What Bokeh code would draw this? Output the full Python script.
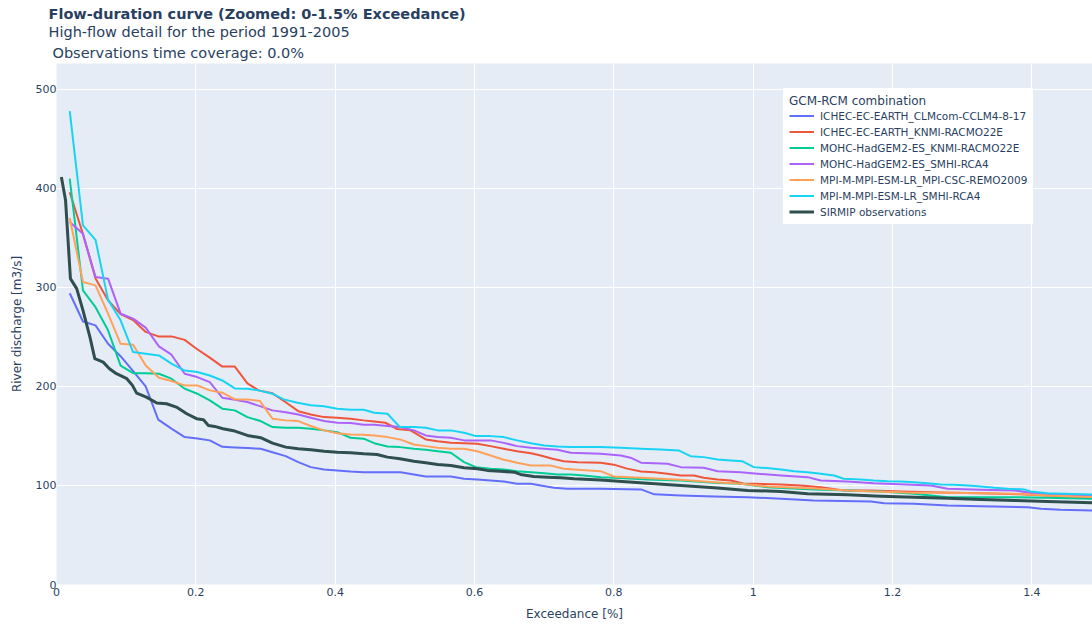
from bokeh.plotting import figure
from bokeh.models import (Legend, LegendItem, Title, Range1d, FixedTicker,
                          CustomJSTickFormatter)
from bokeh.embed import file_html
from bokeh.resources import INLINE

FONT = "DejaVu Sans"
TXT = "#2a3f5f"

title_main = "Flow-duration curve (Zoomed: 0-1.5% Exceedance)"
title_sub1 = "High-flow detail for the period 1991-2005"
title_sub2 = "Observations time coverage: 0.0%"
legend_title = "GCM-RCM combination"
x_label = "Exceedance [%]"
y_label = "River discharge [m3/s]"

x_ticks = [0, 0.2, 0.4, 0.6, 0.8, 1.0, 1.2, 1.4]
y_ticks = [0, 100, 200, 300, 400, 500]

names = [
    "ICHEC-EC-EARTH_CLMcom-CCLM4-8-17",
    "ICHEC-EC-EARTH_KNMI-RACMO22E",
    "MOHC-HadGEM2-ES_KNMI-RACMO22E",
    "MOHC-HadGEM2-ES_SMHI-RCA4",
    "MPI-M-MPI-ESM-LR_MPI-CSC-REMO2009",
    "MPI-M-MPI-ESM-LR_SMHI-RCA4",
    "SIRMIP observations",
]
colors = ["#636efa", "#ef553b", "#00cc96", "#ab63fa", "#ffa15a", "#19d3f3", "#2f4f4f"]

# ICHEC-EC-EARTH_CLMcom-CCLM4-8-17
blue_x = [0.019, 0.038, 0.056, 0.074, 0.092, 0.110, 0.128, 0.146, 0.165, 0.184,
          0.202, 0.220, 0.238, 0.256, 0.274, 0.293, 0.310, 0.329, 0.347, 0.365,
          0.384, 0.403, 0.422, 0.441, 0.494, 0.513, 0.530, 0.566, 0.585, 0.604,
          0.623, 0.642, 0.661, 0.681, 0.695, 0.714, 0.733, 0.781, 0.839, 0.858,
          0.896, 0.944, 0.992, 1.040, 1.087, 1.169, 1.188, 1.231, 1.279, 1.327,
          1.394, 1.413, 1.441, 1.487]
blue_y = [294, 265.5, 261.6, 243, 230.5, 215.5, 200, 166.4, 157.3, 148.8,
          147.5, 145.5, 139, 138.3, 137.7, 137, 133.6, 129.6, 123.5, 118.5,
          116.2, 115.2, 114.1, 113.4, 113.4, 111.1, 109, 109, 106.8, 106,
          105, 104, 101.7, 101.7, 100, 97.7, 96.7, 96.7, 96, 91,
          89.9, 88.9, 88.2, 86.6, 84.8, 83.8, 82.1, 81.5, 79.8, 79,
          78, 76.5, 75.5, 74.7]

# ICHEC-EC-EARTH_KNMI-RACMO22E
red_x = [0.019, 0.037, 0.056, 0.074, 0.092, 0.110, 0.128, 0.146, 0.165, 0.184,
         0.201, 0.220, 0.238, 0.256, 0.274, 0.290, 0.310, 0.329, 0.347, 0.365,
         0.384, 0.403, 0.422, 0.441, 0.456, 0.472, 0.489, 0.508, 0.530, 0.547,
         0.566, 0.585, 0.604, 0.623, 0.642, 0.661, 0.681, 0.695, 0.712, 0.728,
         0.748, 0.781, 0.800, 0.819, 0.839, 0.858, 0.877, 0.896, 0.915, 0.929,
         0.949, 0.968, 0.987, 1.001, 1.040, 1.068, 1.097, 1.130, 1.169, 1.212,
         1.269, 1.327, 1.384, 1.441, 1.487]
red_y = [396, 356, 309, 287, 273, 267, 255, 250.5, 250.5, 247,
         238, 229, 220, 220, 203, 196, 193, 184, 175, 171.7,
         169, 168.4, 167.4, 165.7, 164.6, 163.3, 157, 155.6, 146.5, 144.7,
         143, 142.7, 142, 139.7, 137, 134.6, 132.6, 130.3, 127, 124.5,
         123.5, 123, 121, 117, 114, 113.4, 111.8, 110, 110, 107.8,
         106, 105, 101.7, 101.7, 101, 100, 98.3, 95, 95, 94,
         93, 92, 91, 89, 88]

# MOHC-HadGEM2-ES_KNMI-RACMO22E
green_x = [0.019, 0.038, 0.056, 0.074, 0.092, 0.110, 0.128, 0.147, 0.165, 0.184,
           0.202, 0.220, 0.238, 0.256, 0.274, 0.293, 0.310, 0.329, 0.347, 0.365,
           0.384, 0.403, 0.422, 0.441, 0.456, 0.475, 0.493, 0.513, 0.530, 0.547,
           0.566, 0.585, 0.602, 0.623, 0.642, 0.661, 0.681, 0.700, 0.719, 0.738,
           0.757, 0.781, 0.810, 0.848, 0.896, 0.944, 0.982, 1.020, 1.087, 1.135,
           1.183, 1.231, 1.279, 1.375, 1.422, 1.487]
green_y = [409.8, 297, 280, 256.6, 221, 213.4, 213.4, 212.8, 207.8, 197.7,
           192.6, 185.9, 177.5, 175.8, 169, 165, 158.9, 158.2, 158.2, 157.3,
           155.6, 153.8, 148.2, 147.2, 142.7, 139.4, 138.7, 137, 136, 134.6,
           133, 123.5, 118.5, 116.9, 116.2, 114.4, 113.4, 112.4, 111.1, 111.1,
           110, 108.4, 107.4, 106, 105, 102.7, 101.7, 98.3, 96, 95,
           94, 91.6, 88.2, 88.2, 87.6, 86.6]

# MOHC-HadGEM2-ES_SMHI-RCA4
purple_x = [0.019, 0.038, 0.056, 0.074, 0.092, 0.110, 0.128, 0.147, 0.165, 0.184,
            0.202, 0.220, 0.238, 0.256, 0.274, 0.293, 0.310, 0.329, 0.347, 0.365,
            0.384, 0.403, 0.422, 0.441, 0.456, 0.475, 0.493, 0.513, 0.530, 0.547,
            0.566, 0.585, 0.604, 0.623, 0.642, 0.661, 0.681, 0.700, 0.719, 0.738,
            0.781, 0.810, 0.824, 0.839, 0.877, 0.896, 0.929, 0.949, 0.982, 1.006,
            1.040, 1.078, 1.097, 1.135, 1.173, 1.255, 1.279, 1.327, 1.375, 1.403,
            1.446, 1.487]
purple_y = [366, 354, 310.4, 308.8, 273.4, 268.4, 259.3, 240.4, 232, 212.8,
            209.4, 204.3, 188.6, 186.6, 184.2, 179.8, 175.8, 174, 171.7, 168.4,
            165, 163.3, 163, 161.3, 161.3, 160, 159, 155.6, 150.5, 148.8,
            148.2, 145.5, 145.5, 145.5, 143, 139.7, 138, 137, 136, 133,
            132, 130.3, 128, 123, 122, 118.5, 117.8, 114.4, 113.4, 111.8,
            110, 108.4, 105, 104, 102.3, 100, 96.7, 95.7, 95, 92.2,
            90.6, 89.9]

# MPI-M-MPI-ESM-LR_MPI-CSC-REMO2009
orange_x = [0.019, 0.038, 0.056, 0.074, 0.092, 0.110, 0.128, 0.147, 0.165, 0.184,
            0.202, 0.220, 0.238, 0.256, 0.274, 0.292, 0.310, 0.329, 0.347, 0.365,
            0.384, 0.403, 0.422, 0.441, 0.456, 0.475, 0.493, 0.513, 0.530, 0.547,
            0.566, 0.585, 0.604, 0.623, 0.642, 0.661, 0.681, 0.700, 0.709, 0.728,
            0.748, 0.781, 0.800, 0.839, 0.896, 0.944, 0.982, 1.020, 1.063, 1.097,
            1.135, 1.173, 1.231, 1.279, 1.327, 1.375, 1.422, 1.487]
orange_y = [370, 305.4, 302, 273.4, 243, 242, 221, 208.8, 205.4, 201,
            201, 196, 193.6, 186.9, 186.9, 185.2, 167.4, 165.7, 165, 160,
            155.6, 152.8, 151.5, 151.2, 150.5, 148.8, 146.5, 141.4, 139.7, 138,
            137, 137, 134.6, 130.3, 126, 123, 120.2, 120.2, 120.2, 116.9,
            115.9, 114.4, 109, 107.8, 105.8, 103.3, 101.7, 99, 97.7, 96.7,
            95, 94, 92.6, 92.6, 92.2, 91.6, 89.9, 88.2]

# MPI-M-MPI-ESM-LR_SMHI-RCA4
cyan_x = [0.019, 0.038, 0.056, 0.074, 0.092, 0.110, 0.128, 0.147, 0.165, 0.184,
          0.202, 0.220, 0.238, 0.256, 0.274, 0.290, 0.310, 0.326, 0.346, 0.365,
          0.384, 0.403, 0.422, 0.441, 0.456, 0.475, 0.493, 0.513, 0.530, 0.547,
          0.566, 0.585, 0.602, 0.623, 0.642, 0.661, 0.681, 0.700, 0.719, 0.738,
          0.781, 0.810, 0.839, 0.867, 0.893, 0.910, 0.929, 0.949, 0.968, 0.984,
          1.001, 1.020, 1.040, 1.059, 1.078, 1.097, 1.116, 1.130, 1.154, 1.173,
          1.193, 1.212, 1.231, 1.250, 1.269, 1.288, 1.308, 1.327, 1.346, 1.365,
          1.389, 1.398, 1.422, 1.446, 1.487]
cyan_y = [478, 362.6, 348, 287.6, 266.7, 234.7, 233, 231.3, 223, 216,
          214.5, 211, 206, 198, 197.6, 196, 192.6, 186.9, 183.5, 181,
          180, 177.5, 176.4, 176.4, 173.4, 172.4, 158.9, 158.9, 158.2, 155.6,
          155.6, 153.2, 149.8, 149.8, 148.8, 145.5, 142.7, 140.4, 139.4, 138.7,
          138.7, 138, 137, 136.4, 135.4, 129.6, 128.6, 126.3, 125.3, 124.5,
          118.5, 117.5, 116.2, 114.4, 113.4, 111.8, 110, 106.8, 106, 105,
          104.3, 104, 103.3, 102.3, 101, 100.7, 100, 99, 97.7, 96.7,
          96, 94, 92.2, 91.6, 90.9]

# SIRMIP observations
obs_x = [0.007, 0.013, 0.020, 0.029, 0.038, 0.048, 0.055, 0.067, 0.076, 0.086,
         0.101, 0.109, 0.115, 0.129, 0.144, 0.158, 0.172, 0.187, 0.201, 0.211,
         0.218, 0.227, 0.239, 0.256, 0.274, 0.293, 0.310, 0.329, 0.347, 0.365,
         0.384, 0.403, 0.422, 0.441, 0.460, 0.475, 0.493, 0.513, 0.530, 0.547,
         0.566, 0.585, 0.604, 0.618, 0.637, 0.657, 0.666, 0.685, 0.705, 0.724,
         0.743, 0.781, 0.848, 0.896, 0.944, 0.992, 1.040, 1.078, 1.135, 1.183,
         1.231, 1.279, 1.327, 1.375, 1.422, 1.487]
obs_y = [411.4, 387.9, 308.8, 298.7, 276.8, 249.8, 228, 224.5, 217.9, 212.8,
         207.8, 201, 193.2, 189.2, 183.2, 182.5, 179.1, 172.4, 167.4, 166.4,
         160.6, 159.6, 157.3, 154.9, 150.5, 148.2, 142.7, 138.7, 137, 136,
         134.6, 133.6, 133, 132, 131.3, 128.6, 127, 124.5, 123, 121.2,
         120.2, 117.8, 116.9, 115.2, 114.4, 113.4, 111.1, 109, 108.4, 107.8,
         106.8, 105.5, 102.3, 100, 97.7, 95, 94, 91.6, 90.6, 89.2,
         88.2, 87.2, 85.9, 84.8, 83.8, 82.5]

series = [(blue_x, blue_y), (red_x, red_y), (green_x, green_y), (purple_x, purple_y),
          (orange_x, orange_y), (cyan_x, cyan_y), (obs_x, obs_y)]

p = figure(width=1092, height=626, output_backend="svg", toolbar_location=None,
           x_range=Range1d(0, 1.487), y_range=Range1d(0, 526),
           min_border_left=56, min_border_right=0, min_border_top=63,
           min_border_bottom=42)
p.background_fill_color = "#e5ecf6"
p.border_fill_color = "white"
p.outline_line_color = None

for gr in (p.xgrid, p.ygrid):
    gr.grid_line_color = "white"
    gr.grid_line_width = 1

for ax in (p.xaxis, p.yaxis):
    ax.axis_line_color = None
    ax.major_tick_line_color = None
    ax.minor_tick_line_color = None
    ax.major_tick_out = 0
    ax.major_tick_in = 0
    ax.minor_tick_out = 0
    ax.minor_tick_in = 0
    ax.major_label_text_font = FONT
    ax.major_label_text_font_size = "11px"
    ax.major_label_text_color = TXT
    ax.axis_label_text_font = FONT
    ax.axis_label_text_font_size = "12px"
    ax.axis_label_text_font_style = "normal"
    ax.axis_label_text_color = TXT

p.xaxis.major_label_standoff = 3
p.yaxis.major_label_standoff = 0
p.xaxis.ticker = FixedTicker(ticks=x_ticks)
p.xaxis.formatter = CustomJSTickFormatter(code="return String(Math.round(tick*10)/10);")
p.yaxis.ticker = FixedTicker(ticks=y_ticks)
p.xaxis.axis_label = x_label
p.yaxis.axis_label = y_label
p.xaxis.axis_label_standoff = 8
p.yaxis.axis_label_standoff = 9

items = []
for name, color, (xs, ys) in zip(names, colors, series):
    w = 3 if name == "SIRMIP observations" else 2
    r = p.line(xs, ys, line_color=color, line_width=w, line_join="round")
    items.append(LegendItem(label=name, renderers=[r]))

legend = Legend(items=items, title=legend_title, location=(727, 360))
legend.title_text_font = FONT
legend.title_text_font_size = "12px"
legend.title_text_font_style = "normal"
legend.title_text_color = TXT
legend.title_standoff = 1
legend.label_text_font = FONT
legend.label_text_font_size = "10.5px"
legend.label_text_color = TXT
legend.label_height = 13
legend.glyph_height = 13
legend.glyph_width = 25
legend.label_standoff = 6
legend.spacing = 3
legend.padding = 6
legend.margin = 0
legend.background_fill_color = "white"
legend.background_fill_alpha = 1
legend.border_line_alpha = 0
p.add_layout(legend, "center")

t3 = Title(text=title_sub2, text_font=FONT, text_font_size="14.5px",
           text_font_style="normal", text_color=TXT, offset=-4, standoff=6)
t2 = Title(text=title_sub1, text_font=FONT, text_font_size="14.5px",
           text_font_style="normal", text_color=TXT, offset=-8, standoff=0)
t1 = Title(text=title_main, text_font=FONT, text_font_size="14.5px",
           text_font_style="bold", text_color=TXT, offset=-8, standoff=0)
p.add_layout(t3, "above")
p.add_layout(t2, "above")
p.add_layout(t1, "above")

open("out.html", "w").write(file_html(p, INLINE))
